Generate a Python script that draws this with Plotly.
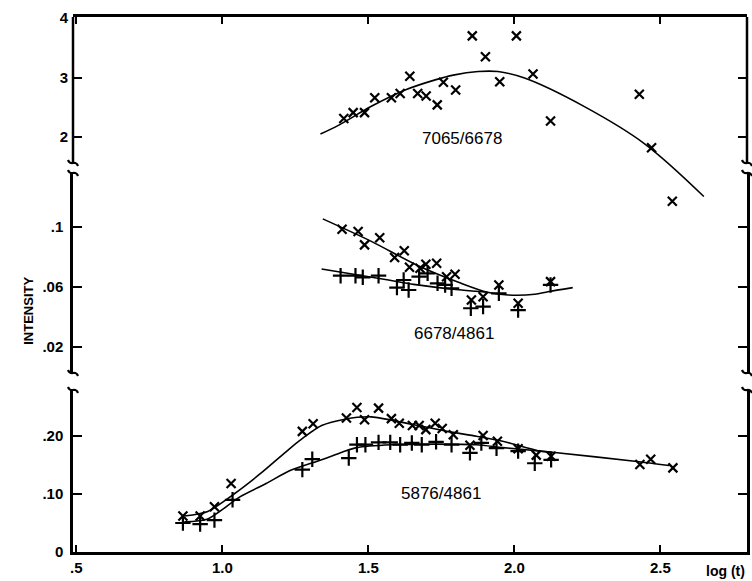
import plotly.graph_objects as go

# ---------------- data ----------------
# 7065/6678 (top panel)
top_x = [1.416, 1.448, 1.487, 1.522, 1.579, 1.609, 1.642, 1.669, 1.698, 1.736, 1.757, 1.799,
         1.856, 1.901, 1.950, 2.007, 2.064, 2.124, 2.428, 2.470, 2.541]
top_y = [2.31, 2.41, 2.41, 2.66, 2.66, 2.73, 3.02, 2.73, 2.69, 2.54, 2.92, 2.79,
         3.70, 3.35, 2.93, 3.70, 3.06, 2.27, 2.72, 1.82, 0.92]
top_fit_x = [1.336, 1.399, 1.512, 1.626, 1.729, 1.791, 1.876, 1.944, 2.035, 2.240, 2.445, 2.649]
top_fit_y = [2.05, 2.20, 2.52, 2.79, 2.96, 3.04, 3.10, 3.10, 2.99, 2.51, 1.89, 1.00]

# 6678/4861 (middle panel)
mid_cross_x = [1.410, 1.465, 1.487, 1.539, 1.590, 1.623, 1.641, 1.677, 1.697, 1.734, 1.768, 1.797,
               1.853, 1.893, 1.947, 2.013, 2.124]
mid_cross_y = [0.0985, 0.0969, 0.0880, 0.0928, 0.0795, 0.0841, 0.0730, 0.0724, 0.0750, 0.0757,
               0.0667, 0.0683, 0.0511, 0.0533, 0.0612, 0.0489, 0.0634]
mid_plus_x = [1.405, 1.456, 1.481, 1.535, 1.598, 1.621, 1.638, 1.674, 1.703, 1.737, 1.763, 1.785,
              1.851, 1.893, 1.947, 2.013, 2.124]
mid_plus_y = [0.0674, 0.0674, 0.0663, 0.0674, 0.0594, 0.0645, 0.0578, 0.0667, 0.0690, 0.0623,
              0.0612, 0.0590, 0.0456, 0.0467, 0.0556, 0.0444, 0.0612]
mid_cross_fit_x = [1.344, 1.512, 1.665, 1.818, 1.908, 1.979, 2.070, 2.115, 2.200]
mid_cross_fit_y = [0.1054, 0.0902, 0.0746, 0.0623, 0.0563, 0.0545, 0.0550, 0.0567, 0.0594]
mid_plus_fit_x = [1.340, 1.569, 1.655, 1.819, 1.908]
mid_plus_fit_y = [0.0719, 0.0645, 0.0616, 0.0578, 0.0563]

# 5876/4861 (bottom panel)
bot_cross_x = [0.865, 0.924, 0.973, 1.030, 1.274, 1.311, 1.425, 1.461, 1.487, 1.535, 1.579, 1.606,
               1.651, 1.674, 1.697, 1.729, 1.753, 1.791, 1.848, 1.893, 1.942, 2.013, 2.075, 2.126,
               2.430, 2.467, 2.543]
bot_cross_y = [0.062, 0.062, 0.078, 0.118, 0.208, 0.221, 0.231, 0.249, 0.228, 0.248, 0.230, 0.222,
               0.218, 0.218, 0.211, 0.222, 0.213, 0.202, 0.184, 0.201, 0.191, 0.178, 0.167, 0.165,
               0.151, 0.160, 0.145]
bot_plus_x = [0.865, 0.924, 0.973, 1.035, 1.274, 1.308, 1.433, 1.461, 1.490, 1.535, 1.575, 1.609,
              1.649, 1.683, 1.732, 1.785, 1.848, 1.887, 1.939, 2.013, 2.070, 2.126]
bot_plus_y = [0.050, 0.048, 0.055, 0.090, 0.142, 0.160, 0.162, 0.185, 0.185, 0.189, 0.189, 0.185,
              0.188, 0.185, 0.190, 0.185, 0.171, 0.188, 0.179, 0.174, 0.153, 0.159]
bot_cross_fit_x = [0.87, 0.95, 1.04, 1.13, 1.23, 1.28, 1.34, 1.42, 1.51, 1.66, 1.77, 1.87, 1.96,
                   2.09, 2.13, 2.42, 2.53]
bot_cross_fit_y = [0.062, 0.070, 0.100, 0.135, 0.178, 0.198, 0.218, 0.229, 0.233, 0.219, 0.208,
                   0.1995, 0.191, 0.1736, 0.172, 0.156, 0.149]
bot_plus_fit_x = [0.87, 0.95, 1.06, 1.15, 1.23, 1.34, 1.41, 1.46, 1.58, 1.73, 1.87, 1.96, 2.09, 2.13]
bot_plus_fit_y = [0.052, 0.057, 0.095, 0.118, 0.140, 0.159, 0.172, 0.180, 0.185, 0.186, 0.185,
                  0.180, 0.174, 0.172]

x_ticks = [0.5, 1.0, 1.5, 2.0, 2.5]
x_tick_text = [".5", "1.0", "1.5", "2.0", "2.5"]
top_ticks, top_tick_text = [2, 3, 4], ["2", "3", "4"]
mid_ticks, mid_tick_text = [0.02, 0.06, 0.1], [".02", ".06", ".1"]
bot_ticks, bot_tick_text = [0, 0.10, 0.20], ["0", ".10", ".20"]

# ---------------- figure ----------------
W, H = 752, 581
ML, MR, MT, MB = 73, 2, 17, 29
PH = H - MT - MB
def pf(py):  # pixel row -> paper fraction
    return (H - MB - py) / PH

XR = [0.4886, 2.7968]
TOP_R = [0.857, 4.0168]
MID_R = [0.00228, 0.1361]
BOT_R = [0.0, 0.2793]
TOP_AXIS_LOW = 1.563

BLACK = "black"
FONT = "Liberation Sans"
fig = go.Figure()

def markers(x, y, sym, xa, ya, size):
    fig.add_trace(go.Scatter(x=x, y=y, mode="markers", xaxis=xa, yaxis=ya, cliponaxis=False,
                             marker=dict(symbol=sym, size=size, color=BLACK,
                                         line=dict(color=BLACK, width=2.2))))

def curve(x, y, xa, ya, sm=0.8):
    fig.add_trace(go.Scatter(x=x, y=y, mode="lines", xaxis=xa, yaxis=ya,
                             line=dict(color=BLACK, width=1.6, shape="spline", smoothing=sm)))

curve(top_fit_x, top_fit_y, "x2", "y", 1.0)
markers(top_x, top_y, "x-thin-open", "x2", "y", 9)

curve(mid_cross_fit_x, mid_cross_fit_y, "x", "y2")
curve(mid_plus_fit_x, mid_plus_fit_y, "x", "y2")
markers(mid_cross_x, mid_cross_y, "x-thin-open", "x", "y2", 9)
markers(mid_plus_x, mid_plus_y, "cross-thin-open", "x", "y2", 11)

curve(bot_cross_fit_x, bot_cross_fit_y, "x", "y3", 0.7)
curve(bot_plus_fit_x, bot_plus_fit_y, "x", "y3", 0.7)
markers(bot_cross_x, bot_cross_y, "x-thin-open", "x", "y3", 9)
markers(bot_plus_x, bot_plus_y, "cross-thin-open", "x", "y3", 11)

tickfont = dict(family=FONT, size=15, color=BLACK, weight="bold")
yax_common = dict(ticks="inside", ticklen=9, tickwidth=2, tickcolor=BLACK, showgrid=False,
                  zeroline=False, tickfont=tickfont, mirror="ticks", linecolor=BLACK,
                  linewidth=2.5, fixedrange=True, ticklabelstandoff=4)

fig.update_layout(
    width=W, height=H, margin=dict(l=ML, r=MR, t=MT, b=MB),
    paper_bgcolor="white", plot_bgcolor="white", showlegend=False,
    xaxis=dict(domain=[0, 1], anchor="y3", range=XR, tickvals=x_ticks, ticktext=x_tick_text,
               ticks="inside", ticklen=7, tickwidth=2, tickcolor=BLACK, showline=True,
               linecolor=BLACK, linewidth=2.5, showgrid=False, zeroline=False,
               tickfont=tickfont),
    xaxis2=dict(domain=[0, 1], anchor="y", side="top", range=XR, tickvals=x_ticks,
                ticks="inside", ticklen=7, tickwidth=2, tickcolor=BLACK, showline=True,
                linecolor=BLACK, linewidth=2.5, showgrid=False, zeroline=False,
                showticklabels=False),
    yaxis=dict(domain=[pf(205), 1.0], anchor="x2", range=TOP_R, tickvals=top_ticks,
               ticktext=top_tick_text, showline=False, **yax_common),
    yaxis2=dict(domain=[pf(373), pf(173)], anchor="x", range=MID_R, tickvals=mid_ticks,
                ticktext=mid_tick_text, showline=True, **yax_common),
    yaxis3=dict(domain=[0, pf(390)], anchor="x", range=BOT_R, tickvals=bot_ticks,
                ticktext=bot_tick_text, showline=True, **yax_common),
)

# visible part of the top panel's vertical axes (the panel's domain extends lower for the curve)
for xp in (0, 1):
    fig.add_shape(type="line", xref="paper", yref="y", x0=xp, x1=xp,
                  y0=TOP_AXIS_LOW, y1=TOP_R[1], line=dict(color=BLACK, width=2.5))

# axis break marks
squig = "M -5,3 C -2,-4 2,4 5,-3"
for py in (163, 173, 373, 390):
    for xp in (0, 1):
        fig.add_shape(type="path", xref="paper", yref="paper", xsizemode="pixel",
                      ysizemode="pixel", xanchor=xp, yanchor=pf(py), path=squig,
                      line=dict(color=BLACK, width=2.2))

lab = dict(family=FONT, size=17, color=BLACK)
fig.add_annotation(x=1.822, y=1.983, xref="x2", yref="y", text="7065/6678", showarrow=False, font=lab)
fig.add_annotation(x=1.794, y=0.0290, xref="x", yref="y2", text="6678/4861", showarrow=False, font=lab)
fig.add_annotation(x=1.750, y=0.1017, xref="x", yref="y3", text="5876/4861", showarrow=False, font=lab)
fig.add_annotation(x=(19 - ML) / (W - ML - MR), y=pf(311), xref="paper", yref="paper",
                   text="INTENSITY", textangle=-90, showarrow=False,
                   font=dict(family=FONT, size=13, color=BLACK, weight="bold"))
fig.add_annotation(x=(728 - ML) / (W - ML - MR), y=pf(571), xref="paper", yref="paper",
                   xanchor="center", yanchor="middle",
                   text="log (t)", showarrow=False,
                   font=dict(family=FONT, size=14, color=BLACK, weight="bold"))

fig.write_html("out.html")
